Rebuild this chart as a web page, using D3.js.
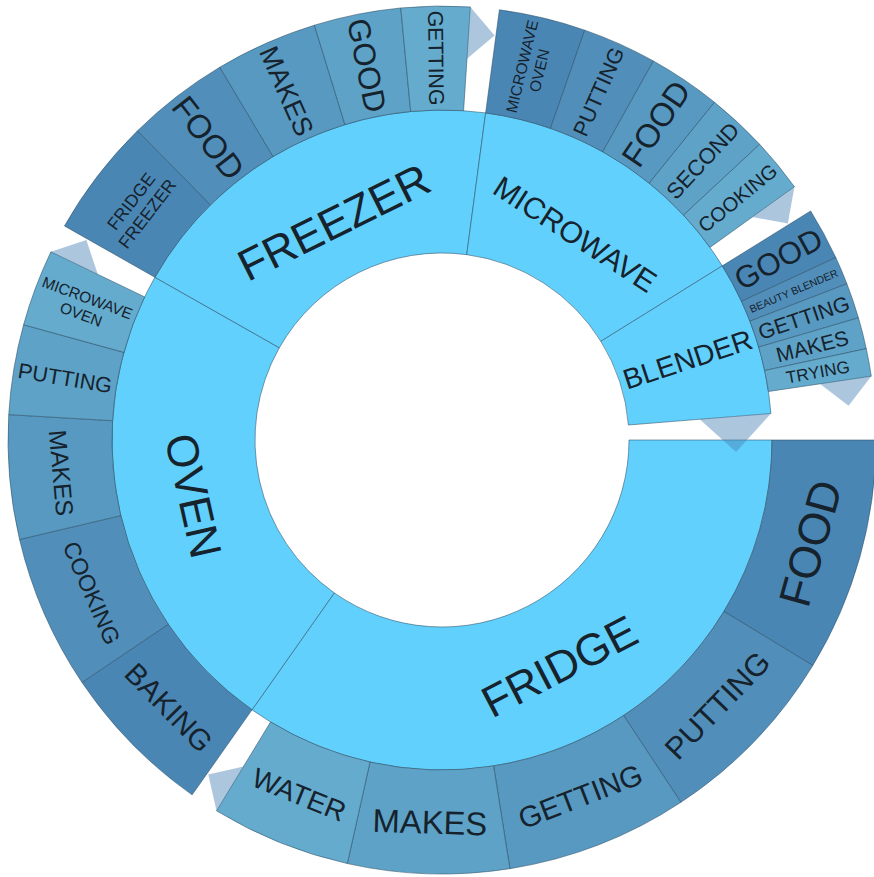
<html>
  <head>
    <script src="https://d3js.org/d3.v7.min.js"></script>
    <style>
      body { margin: 0; background: #fff; }
      svg { font-family: "Liberation Sans", Arial, sans-serif; }
      .seg { stroke: #2c4f66; stroke-opacity: 0.55; stroke-width: 1; }
      .label { fill: #16222c; }
      .more { fill: steelblue; fill-opacity: 0.45; }
    </style>
  </head>
  <body>
    <div id="root"></div>
  <script>
// inner ring, clockwise from 3 o'clock
var groups = ["FRIDGE", "OVEN", "FREEZER", "MICROWAVE", "BLENDER"];

// outer ring words per group
var words = [
  ["FOOD", "PUTTING", "GETTING", "MAKES", "WATER"],
  ["BAKING", "COOKING", "MAKES", "PUTTING", "MICROWAVE OVEN"],
  ["FRIDGE FREEZER", "FOOD", "MAKES", "GOOD", "GETTING"],
  ["MICROWAVE OVEN", "PUTTING", "FOOD", "SECOND", "COOKING"],
  ["GOOD", "BEAUTY BLENDER", "GETTING", "MAKES", "TRYING"]
];

var weights = [
  [31.3, 25.3, 24.4, 21.6, 18.7],
  [20.9, 20.7, 16.6, 12.05, 10.3],
  [15.9, 13.75, 13.7, 11.65, 9.2],
  [11.6, 9.95, 9.75, 8.15, 7.25],
  [7.0, 3.75, 4.75, 4.2, 3.7]
];

var width = 874, height = 877;
var cx = 442, cy = 440;
var r0 = 187, r1 = 330, r2 = 434;
var startAngle = 90;            // degrees, clockwise from top
var gapOuter = 3.85, gapInner = 4.6;
var pad = 4.5, capH = 0.72, lineH = 1.15, maxFont = 44.5, tangBias = 1.2;

var rad = d3.scaleLinear().domain([0, 360]).range([0, 2 * Math.PI]);
var shade = d3.scaleLinear().domain([0, 4]).range(["#4a86b4", "#64abcd"]).interpolate(d3.interpolateRgb);

/* angles from the weights */
var unit = (360 - gapInner - groups.length * gapOuter) / d3.sum(weights.flat());
var inner = [], outer = [], tips = [];
var a = startAngle;
groups.forEach(function(g, i) {
  var a0 = a;
  weights[i].forEach(function(w, j) {
    outer.push({name: words[i][j], a0: a, a1: a + w * unit, idx: j});
    a += w * unit;
  });
  tips.push({a: a, rIn: r1, rOut: r2});
  a += gapOuter;
  inner.push({name: g, a0: a0, a1: a});
});
tips.push({a: a, rIn: r0, rOut: r1});

var svg = d3.select("#root").append("svg")
  .attr("width", width)
  .attr("height", height);

var g = svg.append("g").attr("transform", `translate(${cx}, ${cy})`);

/* text measuring */
var probe = svg.append("text").attr("font-size", 100).attr("visibility", "hidden");
function measure(t) {
  probe.text(t);
  return probe.node().getComputedTextLength() / 100;
}

function candidates(name) {
  var parts = name.split(" ");
  var list = [[name]];
  for (var i = 1; i < parts.length; i++) {
    list.push([parts.slice(0, i).join(" "), parts.slice(i).join(" ")]);
  }
  return list;
}

/* best font size and orientation for a sector */
function fit(d, rIn, rOut, fitR) {
  var half = rad(d.a1 - d.a0) / 2;
  var R = rOut - rIn - 2 * pad;
  var T = half >= Math.PI / 2 ? 2 * fitR : 2 * fitR * Math.sin(half) - 2 * pad;
  var best = null;
  candidates(d.name).forEach(function(lines) {
    var wEm = d3.max(lines, measure);
    var hEm = capH + (lines.length - 1) * lineH;
    var st = Math.min(maxFont, T / wEm, R / hEm);
    var sr = Math.min(maxFont, R / wEm, T / hEm);
    if (!best || st * tangBias > best.score) best = {lines: lines, size: st, radial: false, score: st * tangBias};
    if (sr > best.score) best = {lines: lines, size: sr, radial: true, score: sr};
  });
  return best;
}

function placeLabels(data, rIn, rOut, fitR, rTang, drop) {
  data.forEach(function(d) {
    var f = fit(d, rIn, rOut, fitR);
    var m = (d.a0 + d.a1) / 2;
    var mn = ((m % 360) + 360) % 360;
    var rot, rc = f.radial ? (rIn + rOut) / 2 : rTang;
    if (f.radial) rot = mn <= 180 ? mn - 90 : mn - 270;
    else rot = (mn > 90 && mn < 270) ? mn - 180 : mn;
    var x = rc * Math.sin(rad(m)), y = -rc * Math.cos(rad(m));
    var t = g.append("text")
      .attr("class", "label")
      .attr("text-anchor", "middle")
      .attr("font-size", f.size.toFixed(2))
      .attr("transform", `translate(${x}, ${y}) rotate(${rot})`);
    var n = f.lines.length;
    var dy = f.radial ? 0 : drop;
    f.lines.forEach(function(line, i) {
      t.append("tspan")
        .attr("x", 0)
        .attr("y", ((i - (n - 1) / 2) * lineH + capH / 2 + dy) * f.size)
        .text(line);
    });
  });
}

var arc = d3.arc()
  .startAngle(d => rad(d.a0))
  .endAngle(d => rad(d.a1));

/* inner ring */
g.selectAll(".inner")
  .data(inner).enter()
  .append("path")
  .attr("class", "seg inner")
  .attr("fill", "#62d0fc")
  .attr("d", d => arc.innerRadius(r0).outerRadius(r1)(d));

/* outer ring */
g.selectAll(".outer")
  .data(outer).enter()
  .append("path")
  .attr("class", "seg outer")
  .attr("fill", d => shade(d.idx))
  .attr("d", d => arc.innerRadius(r1).outerRadius(r2)(d));

placeLabels(inner, r0, r1, 229, 249, 0.12);
placeLabels(outer, r1, r2, r1, (r1 + r2) / 2, 0);

/* small pointers after each group */
function pt(r, ang) {
  return [r * Math.sin(rad(ang)), -r * Math.cos(rad(ang))];
}
g.selectAll(".more")
  .data(tips).enter()
  .append("path")
  .attr("class", "more")
  .attr("d", function(d) {
    var rm = (d.rIn + d.rOut) / 2;
    var h = (d.rOut - rm) / 2;
    var rt = (rm + d.rOut) / 2;
    var tipA = d.a + h / rt * 180 / Math.PI;
    return "M" + pt(rm, d.a) + "L" + pt(d.rOut, d.a) + "L" + pt(rt, tipA) + "Z";
  });

probe.remove();
  </script>
  </body>
</html>
